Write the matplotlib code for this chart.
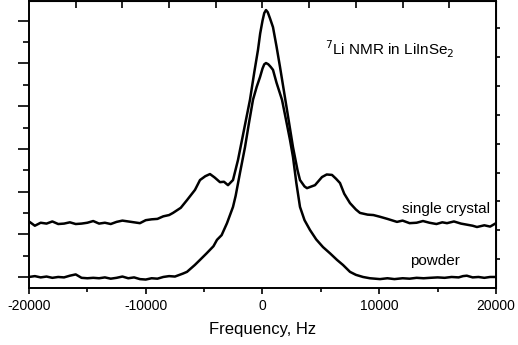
import numpy as np
import matplotlib
matplotlib.use("Agg")
import matplotlib.pyplot as plt
from matplotlib.ticker import MultipleLocator, NullFormatter

plt.rcParams['font.family'] = ['Liberation Sans', 'DejaVu Sans']
plt.rcParams['axes.unicode_minus'] = False

# single crystal spectrum (Hz, arb. units)
sc_freq = [-20000, -19500, -19000, -18500, -18000, -17500, -17000, -16500, -16000,
           -15500, -15000, -14500, -14000, -13500, -13000, -12500, -12000, -11500,
           -11000, -10500, -10000, -9500, -9000, -8500, -8000, -7666, -7000, -6467,
           -5782, -5353, -4900, -4497, -4100, -3640, -3300, -2955, -2527, -2099,
           -1756, -1400, -1071, -700, -385, -200, 0, 150, 300, 450, 650, 899, 1200,
           1499, 2099, 2612, 3000, 3212, 3600,
           3811, 4200, 4497, 5096, 5500, 5953, 6300, 6638, 7000, 7494, 8000, 8351,
           9000, 9500, 10064, 10700, 11520, 12000, 12600, 13200, 13747, 14300,
           14900, 15400, 15803, 16400, 17000, 17600, 18000, 18372, 19000, 19500, 20000]
sc_int = [1.30, 1.20, 1.27, 1.25, 1.30, 1.24, 1.25, 1.28, 1.24,
          1.25, 1.27, 1.31, 1.25, 1.27, 1.24, 1.29, 1.32, 1.30,
          1.28, 1.26, 1.33, 1.35, 1.36, 1.42, 1.45, 1.50, 1.62, 1.80,
          2.04, 2.27, 2.36, 2.41, 2.33, 2.22, 2.23, 2.15, 2.27, 2.74,
          3.21, 3.70, 4.15, 4.80, 5.32, 5.70, 6.00, 6.18, 6.25, 6.20, 6.05, 5.85, 5.40,
          4.92, 3.91, 3.04, 2.50, 2.27, 2.12,
          2.08, 2.12, 2.15, 2.34, 2.40, 2.39, 2.30, 2.20, 1.95, 1.73, 1.58, 1.50,
          1.46, 1.45, 1.41, 1.36, 1.29, 1.32, 1.26, 1.27, 1.31, 1.27,
          1.24, 1.28, 1.26, 1.30, 1.25, 1.22, 1.20, 1.17, 1.21, 1.18, 1.26]

# powder spectrum
pw_freq = [-20000, -19500, -19000, -18500, -18000, -17500, -17000, -16500, -16000,
           -15500, -15000, -14500, -14000, -13500, -13000, -12500, -12000, -11500,
           -11000, -10500, -10000, -9500, -9000, -8500, -8000, -7500, -6810, -6467,
           -5800, -5353, -4800, -4200, -3897, -3500, -3041, -2527, -2300, -1927,
           -1499, -1150, -814, -500, -214, 0, 150, 300, 500, 700, 899, 1200, 1670,
           2000, 2355, 2612, 2900, 3212, 3600, 4068,
           4600, 5182, 5800, 6381, 6900, 7494, 8000, 8608, 9200, 10064, 10700,
           11300, 12000, 12600, 13200, 13800, 14347, 15000, 15600, 16200, 16800,
           17173, 17500, 18000, 18500, 19000, 19500, 20000]
pw_int = [0.00, 0.02, -0.01, 0.01, -0.02, 0.00, -0.01, 0.03, 0.06,
          -0.02, -0.03, -0.02, -0.03, -0.01, -0.04, -0.02, 0.01, -0.03,
          -0.01, -0.05, -0.06, -0.03, -0.04, 0.00, 0.02, 0.01, 0.08, 0.12,
          0.28, 0.40, 0.55, 0.72, 0.87, 0.98, 1.26, 1.64, 1.90, 2.44,
          3.04, 3.62, 4.15, 4.45, 4.68, 4.88, 4.98, 5.01, 4.98, 4.92, 4.85, 4.55, 4.15,
          3.70, 3.21, 2.81, 2.20, 1.64, 1.33, 1.10,
          0.88, 0.70, 0.55, 0.40, 0.28, 0.12, 0.05, 0.00, -0.03, -0.05, -0.03,
          -0.05, -0.03, -0.04, -0.02, -0.03, -0.02, -0.01, -0.02, 0.00, -0.01,
          0.02, 0.03, -0.01, 0.00, -0.02, 0.00, 0.00]

fig = plt.figure(figsize=(5.18, 3.45), dpi=100)
ax = fig.add_axes([0.056, 0.165, 0.9015, 0.833])

ax.plot(sc_freq, sc_int, color='black', linewidth=1.8)
ax.plot(pw_freq, pw_int, color='black', linewidth=1.8)

ax.set_xlim(-20000, 20000)
ax.set_ylim(-0.26, 6.47)

for s in ax.spines.values():
    s.set_linewidth(1.4)

ax.xaxis.set_major_locator(MultipleLocator(10000))
ax.xaxis.set_minor_locator(MultipleLocator(5000))
ax.yaxis.set_major_locator(MultipleLocator(1))
ax.yaxis.set_minor_locator(MultipleLocator(0.5))
ax.yaxis.set_major_formatter(NullFormatter())
ax.tick_params(axis='x', which='major', direction='out', length=4, width=1.2,
               labelsize=10, pad=4)
ax.tick_params(axis='x', which='minor', direction='out', length=3, width=1.2)
ax.tick_params(axis='y', which='major', direction='out', length=8, width=1.2)
ax.tick_params(axis='y', which='minor', direction='out', length=4, width=1.2)

# top and right axes carry their own unlabeled ticks
top = ax.secondary_xaxis('top')
top.set_xticks(np.arange(-16000, 16001, 4000))
top.tick_params(direction='in', length=5, width=1.2, labeltop=False)
right = ax.secondary_yaxis('right')
right.set_yticks(np.arange(0.42, 6.3, 0.675))
right.tick_params(direction='out', length=3, width=1.2, labelright=False)

ax.set_xlabel('Frequency, Hz', fontsize=12, labelpad=6)

ax.text(0.634, 0.83, r'$^7$Li NMR in LiInSe$_2$', transform=ax.transAxes,
        fontsize=11, va='center')
ax.text(0.987, 0.274, 'single crystal', transform=ax.transAxes,
        fontsize=11, ha='right', va='center')
ax.text(0.923, 0.094, 'powder', transform=ax.transAxes,
        fontsize=11, ha='right', va='center')

plt.savefig('out.png', dpi=100)
